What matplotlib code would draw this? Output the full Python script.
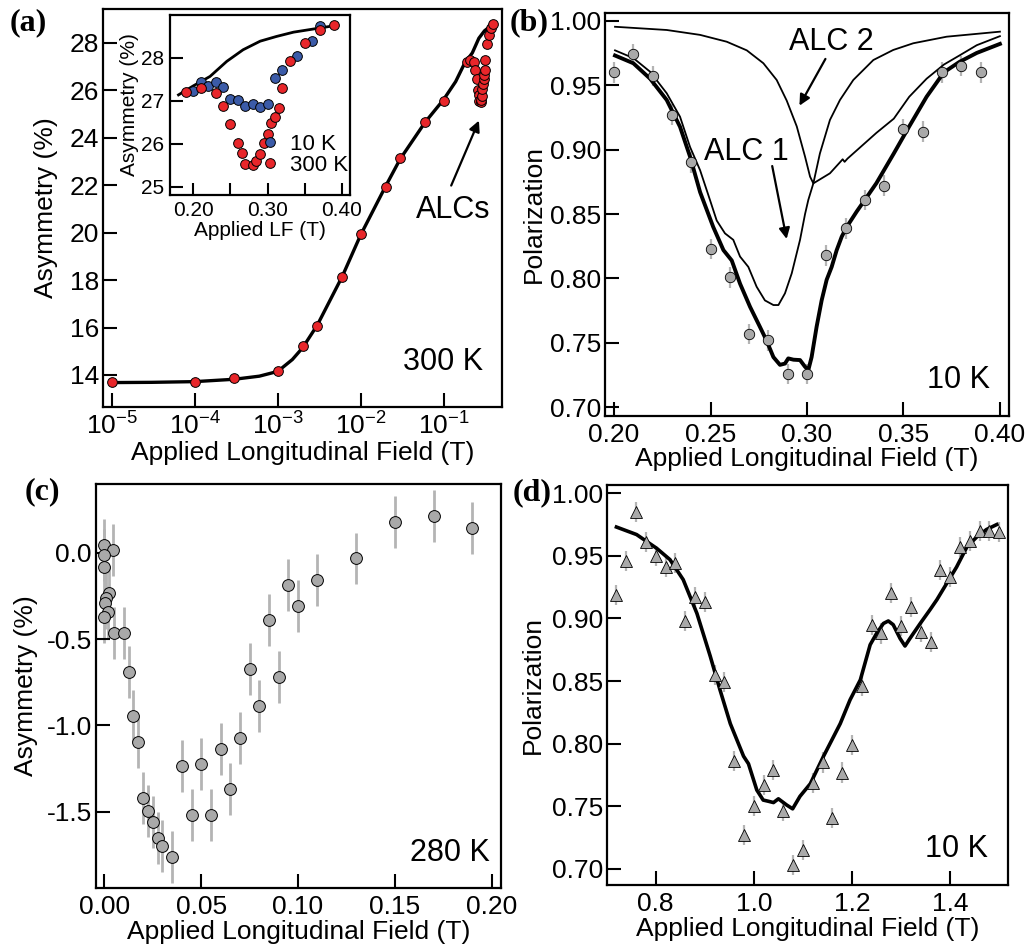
import numpy as np
import matplotlib
matplotlib.use('Agg')
import matplotlib.pyplot as plt
from matplotlib.ticker import FixedLocator, FormatStrFormatter, NullLocator, LogLocator

plt.rcParams['font.family'] = ['Liberation Sans', 'DejaVu Sans']
plt.rcParams['axes.unicode_minus'] = False
plt.rcParams['mathtext.default'] = 'regular'

# ---- panel (a): 300 K field scan (log axis) ----
a_field = [1e-5, 1e-4, 3e-4, 1e-3, 2e-3, 3e-3, 6e-3, 1e-2, 2e-2, 3e-2, 6e-2, 0.1]
a_asym = [13.69, 13.69, 13.89, 14.18, 15.22, 16.08, 18.14, 19.94, 21.91, 23.14, 24.67, 25.56]
a_fit_x = [1e-5, 3e-5, 1e-4, 3e-4, 6e-4, 1e-3, 1.5e-3, 2e-3, 3e-3, 6e-3, 1e-2, 2e-2,
           3e-2, 6e-2, 0.1, 0.14, 0.18, 0.2225, 0.267, 0.312, 0.357, 0.39]
a_fit_y = [13.68, 13.69, 13.72, 13.82, 13.95, 14.15, 14.65, 15.15, 16.1, 18.15, 19.9, 21.95,
           23.1, 24.65, 25.6, 26.36, 27.14, 27.57, 28.19, 28.50, 28.66, 28.77]

# inset: ALC region
in_red_x = [0.19, 0.21, 0.23, 0.24, 0.25, 0.26, 0.265, 0.27, 0.28, 0.285, 0.29, 0.295,
            0.30, 0.305, 0.31, 0.315, 0.32, 0.33, 0.35, 0.37, 0.39]
in_red_y = [27.20, 27.29, 27.18, 26.87, 26.46, 26.01, 25.79, 25.54, 25.51, 25.60, 25.76, 26.03,
            26.24, 26.49, 26.63, 26.83, 27.29, 27.94, 28.34, 28.64, 28.77]
in_blue_x = [0.20, 0.21, 0.22, 0.23, 0.24, 0.25, 0.26, 0.27, 0.28, 0.29, 0.30, 0.31,
             0.32, 0.34, 0.36, 0.37]
in_blue_y = [27.22, 27.44, 27.35, 27.43, 27.32, 27.04, 27.02, 26.87, 26.92, 26.85, 26.93, 27.53,
             27.72, 28.05, 28.40, 28.74]
in_fit_x = [0.18, 0.20, 0.2225, 0.245, 0.267, 0.29, 0.312, 0.335, 0.357, 0.386]
in_fit_y = [27.14, 27.35, 27.57, 27.92, 28.19, 28.39, 28.50, 28.60, 28.66, 28.74]

# ---- panel (b): 10 K ALC ----
b_field = [0.20, 0.21, 0.22, 0.23, 0.24, 0.25, 0.26, 0.27, 0.28, 0.29,
           0.30, 0.31, 0.32, 0.33, 0.34, 0.35, 0.36, 0.37, 0.38, 0.39]
b_pol = [0.960, 0.974, 0.957, 0.927, 0.890, 0.823, 0.801, 0.757, 0.752, 0.726,
         0.726, 0.818, 0.839, 0.861, 0.872, 0.916, 0.914, 0.960, 0.965, 0.960]
b_err = [0.008] * 20
b_fit_x = [0.2005, 0.21, 0.2187, 0.2273, 0.2342, 0.2394, 0.2446, 0.2514, 0.2567, 0.261,
           0.2653, 0.2705, 0.2756, 0.279, 0.2826, 0.286, 0.2886, 0.2903, 0.293, 0.2964,
           0.299, 0.3007, 0.3024, 0.305, 0.3076, 0.3102, 0.3128, 0.3154, 0.318, 0.3206,
           0.3258, 0.330, 0.336, 0.345, 0.353, 0.362, 0.371, 0.379, 0.388, 0.40]
b_fit_y = [0.973, 0.967, 0.955, 0.9385, 0.9177, 0.8945, 0.867, 0.840, 0.822, 0.814,
           0.796, 0.778, 0.7625, 0.752, 0.739, 0.733, 0.734, 0.738, 0.737, 0.7367,
           0.7315, 0.729, 0.739, 0.7626, 0.783, 0.799, 0.809, 0.822, 0.8324, 0.840,
           0.852, 0.861, 0.874, 0.897, 0.918, 0.941, 0.960, 0.968, 0.975, 0.982]
alc1_x = [0.2005, 0.21, 0.2187, 0.2273, 0.2342, 0.2394, 0.2446, 0.2497, 0.2532, 0.2575,
          0.2618, 0.2653, 0.2696, 0.2739, 0.2782, 0.2826, 0.2852, 0.2886, 0.2921, 0.2964,
          0.299, 0.3007, 0.3033, 0.3119, 0.317, 0.3185, 0.3195, 0.321, 0.327, 0.336,
          0.345, 0.353, 0.362, 0.371, 0.379, 0.388, 0.40]
alc1_y = [0.977, 0.971, 0.9604, 0.9437, 0.9255, 0.902, 0.884, 0.861, 0.845, 0.835,
          0.830, 0.817, 0.809, 0.7936, 0.783, 0.7794, 0.7794, 0.7885, 0.804, 0.830,
          0.850, 0.861, 0.8738, 0.8816, 0.890, 0.8925, 0.8905, 0.893, 0.901, 0.913,
          0.924, 0.941, 0.955, 0.966, 0.973, 0.981, 0.988]
alc2_x = [0.2005, 0.2273, 0.2446, 0.2584, 0.2688, 0.2774, 0.2843, 0.2895, 0.2947, 0.299,
          0.3016, 0.3033, 0.3067, 0.3119, 0.3171, 0.324, 0.3344, 0.3447, 0.3551, 0.3724, 0.40]
alc2_y = [0.9953, 0.9928, 0.989, 0.9837, 0.977, 0.967, 0.954, 0.938, 0.918, 0.8945,
          0.879, 0.8738, 0.897, 0.923, 0.9385, 0.954, 0.9695, 0.9773, 0.9825, 0.9876, 0.9915]

# ---- panel (c): 280 K low field ----
c_field = [0.0, 0.0043, 0.0, 0.0, 0.0026, 0.0009, 0.0005, 0.0018, 0.0, 0.0052,
           0.0103, 0.0125, 0.015, 0.0175, 0.02, 0.0225, 0.025, 0.0275, 0.03, 0.035,
           0.04, 0.045, 0.05, 0.055, 0.06, 0.065, 0.07, 0.075, 0.08, 0.085,
           0.09, 0.095, 0.10, 0.11, 0.13, 0.15, 0.17, 0.19]
c_asym = [0.045, 0.016, -0.013, -0.081, -0.235, -0.264, -0.293, -0.342, -0.371, -0.467,
          -0.467, -0.691, -0.948, -1.095, -1.419, -1.498, -1.558, -1.652, -1.699, -1.761,
          -1.237, -1.521, -1.222, -1.519, -1.137, -1.367, -1.071, -0.672, -0.886, -0.388,
          -0.722, -0.189, -0.307, -0.158, -0.033, 0.176, 0.214, 0.145]
c_err = [0.15] * 38

# ---- panel (d): 10 K high field ----
d_field = [0.72, 0.74, 0.76, 0.78, 0.80, 0.82, 0.84, 0.86, 0.88, 0.90,
           0.92, 0.94, 0.96, 0.98, 1.00, 1.02, 1.04, 1.06, 1.08, 1.10,
           1.12, 1.14, 1.16, 1.18, 1.20, 1.22, 1.24, 1.26, 1.28, 1.30,
           1.32, 1.34, 1.36, 1.38, 1.40, 1.42, 1.44, 1.46, 1.48, 1.50]
d_pol = [0.919, 0.946, 0.985, 0.961, 0.950, 0.941, 0.944, 0.898, 0.917, 0.913,
         0.855, 0.849, 0.786, 0.727, 0.750, 0.767, 0.779, 0.746, 0.703, 0.715,
         0.769, 0.785, 0.741, 0.777, 0.799, 0.846, 0.895, 0.888, 0.920, 0.894,
         0.909, 0.889, 0.881, 0.939, 0.933, 0.957, 0.962, 0.970, 0.970, 0.969]
d_err = [0.008] * 40
d_fit_x = [0.72, 0.761, 0.802, 0.829, 0.856, 0.884, 0.911, 0.931, 0.952, 0.979,
           0.989, 1.006, 1.019, 1.03, 1.04, 1.05, 1.067, 1.079, 1.094, 1.115,
           1.142, 1.176, 1.196, 1.217, 1.237, 1.25, 1.264, 1.274, 1.284, 1.298,
           1.308, 1.318, 1.339, 1.359, 1.373, 1.393, 1.413, 1.434, 1.454, 1.474, 1.495]
d_fit_y = [0.973, 0.967, 0.956, 0.947, 0.931, 0.904, 0.870, 0.843, 0.816, 0.790,
           0.784, 0.763, 0.755, 0.754, 0.753, 0.756, 0.751, 0.748, 0.758, 0.768,
           0.790, 0.816, 0.835, 0.851, 0.879, 0.888, 0.896, 0.898, 0.895, 0.884,
           0.878, 0.884, 0.896, 0.907, 0.915, 0.928, 0.941, 0.957, 0.965, 0.971, 0.975]

red = '#e8262a'
blue = '#3b5ba8'
grey = '#a9a9a9'
ebar = '#b4b4b4'
fs_tick = 19
fs_lab = 19
fs_ann = 22


def style(ax, xpad=5, ypad=3):
    for s in ax.spines.values():
        s.set_linewidth(1.6)
    ax.tick_params(which='both', direction='in', length=10, width=1.5,
                   labelsize=fs_tick, top=False, right=False)
    ax.tick_params(axis='x', pad=xpad)
    ax.tick_params(axis='y', pad=ypad)


fig = plt.figure(figsize=(10.28, 9.47), dpi=100)

# (a)
ax = fig.add_axes([0.1002, 0.5702, 0.3881, 0.4203])
ax.set_xscale('log')
ax.plot(a_fit_x, a_fit_y, color='k', lw=2.4, zorder=2)
ax.plot(a_field + in_red_x, a_asym + in_red_y, 'o', ms=7, mfc=red, mec='k', mew=0.7, zorder=3)
ax.set_xlim(7.8e-6, 0.507)
ax.set_ylim(12.65, 29.42)
ax.xaxis.set_major_locator(LogLocator(base=10, numticks=10))
ax.xaxis.set_minor_locator(NullLocator())
ax.yaxis.set_major_locator(FixedLocator([14, 16, 18, 20, 22, 24, 26, 28]))
style(ax, xpad=4)
ax.set_xlabel('Applied Longitudinal Field (T)', fontsize=fs_lab, labelpad=1)
ax.set_ylabel('Asymmetry (%)', fontsize=fs_lab, labelpad=8)
ax.text(0.952, 0.093, '300 K', transform=ax.transAxes, ha='right', va='baseline', fontsize=fs_ann)
ax.text(0.877, 0.475, 'ALCs', transform=ax.transAxes, ha='center', va='baseline', fontsize=fs_ann)
ax.annotate('', xy=(0.945, 0.726), xytext=(0.870, 0.550), xycoords='axes fraction',
            arrowprops=dict(arrowstyle='-|>', color='k', lw=1.6, mutation_scale=16))

# inset
axi = fig.add_axes([0.1654, 0.7941, 0.1751, 0.1901])
axi.set_facecolor('white')
axi.plot(in_fit_x, in_fit_y, color='k', lw=2.0, zorder=2)
axi.plot(in_blue_x, in_blue_y, 'o', ms=7, mfc=blue, mec='k', mew=0.7, label='10 K', zorder=3)
axi.plot(in_red_x, in_red_y, 'o', ms=7, mfc=red, mec='k', mew=0.7, label='300 K', zorder=3)
axi.set_xlim(0.1686, 0.411)
axi.set_ylim(24.81, 29.0)
axi.xaxis.set_major_locator(FixedLocator([0.20, 0.30, 0.40]))
axi.xaxis.set_minor_locator(FixedLocator([0.25, 0.35]))
axi.xaxis.set_major_formatter(FormatStrFormatter('%.2f'))
axi.yaxis.set_major_locator(FixedLocator([25, 26, 27, 28]))
for s in axi.spines.values():
    s.set_linewidth(1.6)
axi.tick_params(which='both', direction='in', length=9, width=1.5, labelsize=15, pad=4)
axi.set_xlabel('Applied LF (T)', fontsize=15, labelpad=1)
axi.set_ylabel('Asymmetry (%)', fontsize=15, labelpad=2)
axi.legend(loc='lower right', bbox_to_anchor=(1.075, 0.02), frameon=False, fontsize=16,
           handlelength=0.8, handletextpad=0.5, labelspacing=0.0, borderpad=0.2)

# (b)
ax = fig.add_axes([0.5885, 0.5607, 0.3930, 0.4256])
ax.errorbar(b_field, b_pol, yerr=b_err, fmt='none', ecolor=ebar, elinewidth=1.6, zorder=1)
ax.plot(alc2_x, alc2_y, color='k', lw=1.3, zorder=2)
ax.plot(alc1_x, alc1_y, color='k', lw=1.3, zorder=2)
ax.plot(b_fit_x, b_fit_y, color='k', lw=2.8, zorder=2)
ax.plot(b_field, b_pol, 'o', ms=7.5, mfc=grey, mec='k', mew=0.6, zorder=3)
ax.set_xlim(0.1953, 0.4047)
ax.set_ylim(0.6933, 1.006)
ax.xaxis.set_major_locator(FixedLocator([0.20, 0.25, 0.30, 0.35, 0.40]))
ax.xaxis.set_major_formatter(FormatStrFormatter('%.2f'))
ax.yaxis.set_major_locator(FixedLocator([0.70, 0.75, 0.80, 0.85, 0.90, 0.95, 1.00]))
ax.yaxis.set_major_formatter(FormatStrFormatter('%.2f'))
style(ax)
ax.set_xlabel('Applied Longitudinal Field (T)', fontsize=fs_lab, labelpad=0)
ax.set_ylabel('Polarization', fontsize=fs_lab, labelpad=3)
ax.text(0.953, 0.0695, '10 K', transform=ax.transAxes, ha='right', va='baseline', fontsize=fs_ann)
ax.text(0.561, 0.908, 'ALC 2', transform=ax.transAxes, ha='center', va='baseline', fontsize=fs_ann)
ax.text(0.349, 0.635, 'ALC 1', transform=ax.transAxes, ha='center', va='baseline', fontsize=fs_ann)
ax.annotate('', xy=(0.478, 0.764), xytext=(0.549, 0.892), xycoords='axes fraction',
            arrowprops=dict(arrowstyle='-|>', color='k', lw=1.6, mutation_scale=16))
ax.annotate('', xy=(0.451, 0.4325), xytext=(0.4126, 0.627), xycoords='axes fraction',
            arrowprops=dict(arrowstyle='-|>', color='k', lw=1.6, mutation_scale=16))

# (c)
ax = fig.add_axes([0.0934, 0.0623, 0.3940, 0.4266])
ax.errorbar(c_field, c_asym, yerr=c_err, fmt='none', ecolor=ebar, elinewidth=2.0, zorder=1)
ax.plot(c_field, c_asym, 'o', ms=8.5, mfc=grey, mec='k', mew=0.7, zorder=3)
ax.set_xlim(-0.0043, 0.2048)
ax.set_ylim(-1.942, 0.398)
ax.xaxis.set_major_locator(FixedLocator([0.0, 0.05, 0.10, 0.15, 0.20]))
ax.xaxis.set_major_formatter(FormatStrFormatter('%.2f'))
ax.yaxis.set_major_locator(FixedLocator([-1.5, -1.0, -0.5, 0.0]))
ax.yaxis.set_major_formatter(FormatStrFormatter('%.1f'))
style(ax)
ax.set_xlabel('Applied Longitudinal Field (T)', fontsize=fs_lab, labelpad=1)
ax.set_ylabel('Asymmetry (%)', fontsize=fs_lab, labelpad=6)
ax.text(0.973, 0.0676, '280 K', transform=ax.transAxes, ha='right', va='baseline', fontsize=fs_ann)

# (d)
ax = fig.add_axes([0.5905, 0.0655, 0.3901, 0.4224])
ax.errorbar(d_field, d_pol, yerr=d_err, fmt='none', ecolor=ebar, elinewidth=1.6, zorder=1)
ax.plot(d_fit_x, d_fit_y, color='k', lw=2.6, zorder=2)
ax.plot(d_field, d_pol, '^', ms=9, mfc=grey, mec='k', mew=0.6, zorder=3)
ax.set_xlim(0.7008, 1.518)
ax.set_ylim(0.6872, 1.0066)
ax.xaxis.set_major_locator(FixedLocator([0.8, 1.0, 1.2, 1.4]))
ax.xaxis.set_major_formatter(FormatStrFormatter('%.1f'))
ax.yaxis.set_major_locator(FixedLocator([0.70, 0.75, 0.80, 0.85, 0.90, 0.95, 1.00]))
ax.yaxis.set_major_formatter(FormatStrFormatter('%.2f'))
style(ax)
ax.set_xlabel('Applied Longitudinal Field (T)', fontsize=fs_lab, labelpad=1)
ax.set_ylabel('Polarization', fontsize=fs_lab, labelpad=5)
ax.text(0.951, 0.071, '10 K', transform=ax.transAxes, ha='right', va='baseline', fontsize=fs_ann)

# panel letters
for lab, x, y in [('(a)', 0.0097, 0.9757), ('(b)', 0.496, 0.9757),
                  ('(c)', 0.0243, 0.4805), ('(d)', 0.499, 0.4794)]:
    fig.text(x, y, lab, fontsize=23, fontweight='bold', family='Liberation Serif',
             ha='left', va='center')

fig.savefig('out.png', dpi=100)
